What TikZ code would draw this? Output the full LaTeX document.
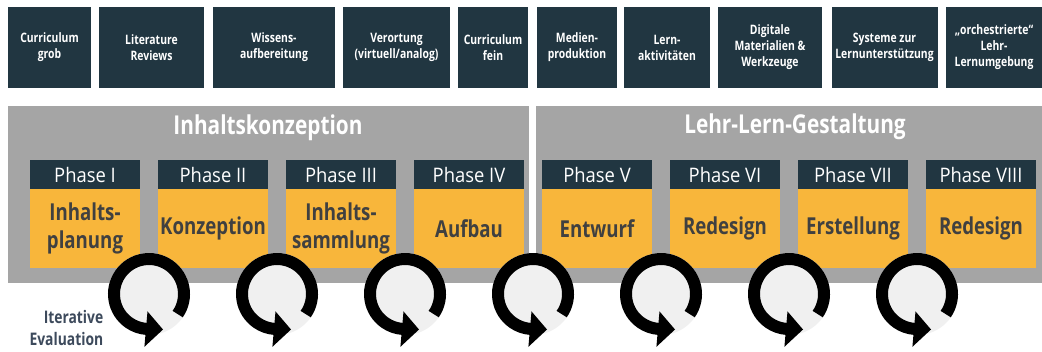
\documentclass[tikz,border=0pt]{standalone}
\usepackage{fontspec}
\setmainfont{Open Sans}[FakeStretch=0.8]
\newfontfamily\headfont{Open Sans}[FakeStretch=0.92]
\usetikzlibrary{arrows.meta}

\newlength\pxu
\setlength\pxu{0.75pt}
\definecolor{navy}{HTML}{213641}
\definecolor{panelgrey}{HTML}{A5A5A5}
\definecolor{phaseorange}{HTML}{F8B63B}
\definecolor{bodytext}{HTML}{404040}
\definecolor{evaltext}{HTML}{3D4A5C}
\definecolor{ringfill}{HTML}{F0F0F0}

\begin{document}
\begin{tikzpicture}[x=0.75pt, y=-0.75pt,
    topbox/.style={fill=navy, text=white, align=center, inner sep=0pt, minimum height=81\pxu,
        font=\bfseries\fontsize{9.75}{12}\selectfont},
    panel/.style={fill=panelgrey, inner sep=0pt, minimum height=177\pxu},
    paneltitle/.style={text=white, font=\bfseries\fontsize{19.5}{22}\selectfont},
    phasehead/.style={fill=navy, text=white, inner sep=0pt, minimum width=110\pxu, minimum height=29\pxu,
        font=\headfont\fontsize{15}{16}\selectfont},
    phasebody/.style={fill=phaseorange, text=bodytext, align=center, inner sep=0pt, minimum width=110\pxu,
        minimum height=79\pxu, font=\bfseries\fontsize{17.5}{21}\selectfont},
    evalcircle/.style={circle, fill=ringfill, inner sep=0pt, minimum size=82\pxu},
    ring/.style={line width=9pt},
    ringtip/.style={fill=black}
]
    \path[fill=white, use as bounding box] (0,0) rectangle (1042,351);

    % top row
    \node[topbox, minimum width=83\pxu] (curgrob) at (49.5,47.5) {Curriculum\\grob};
    \node[topbox, minimum width=105\pxu] (litrev) at (151.5,47.5) {Literature\\Reviews};
    \node[topbox, minimum width=122\pxu] (wissen) at (274,47.5) {Wissens-\\aufbereitung};
    \node[topbox, minimum width=107\pxu] (verort) at (396.5,47.5) {Verortung\\(virtuell/analog)};
    \node[topbox, minimum width=70\pxu] (curfein) at (493,47.5) {Curriculum\\fein};
    \node[topbox, minimum width=80\pxu] (medien) at (577,47.5) {Medien-\\produktion};
    \node[topbox, minimum width=86\pxu] (lernakt) at (667,47.5) {Lern-\\aktivitäten};
    \node[topbox, minimum width=104\pxu] (digmat) at (770,47.5) {Digitale\\Materialien \&\\Werkzeuge};
    \node[topbox, minimum width=106\pxu] (system) at (884.5,47.5) {Systeme zur\\Lernunterstützung};
    \node[topbox, minimum width=96\pxu] (orch) at (994,47.5) {„orchestrierte“\\Lehr-\\Lernumgebung};

    % panels
    \node[panel, minimum width=521\pxu] (inhalt) at (268.5,194.5) {};
    \node[panel, minimum width=506\pxu] (lehrlern) at (789,194.5) {};
    \node[paneltitle] (inhalttitle) at (268,128) {Inhaltskonzeption};
    \node[paneltitle] (lehrlerntitle) at (795,127) {Lehr-Lern-Gestaltung};

    % phases
    \node[phasehead] (ph1) at (85,174.5) {Phase I};
    \node[phasehead] (ph2) at (213,174.5) {Phase II};
    \node[phasehead] (ph3) at (341,174.5) {Phase III};
    \node[phasehead] (ph4) at (469,174.5) {Phase IV};
    \node[phasehead] (ph5) at (597,174.5) {Phase V};
    \node[phasehead] (ph6) at (725,174.5) {Phase VI};
    \node[phasehead] (ph7) at (853,174.5) {Phase VII};
    \node[phasehead] (ph8) at (981,174.5) {Phase VIII};

    \node[phasebody] (pb1) at (85,228.5) {Inhalts-\\planung};
    \node[phasebody] (pb2) at (213,228.5) {Konzeption};
    \node[phasebody] (pb3) at (341,228.5) {Inhalts-\\sammlung};
    \node[phasebody] (pb4) at (469,228.5) {Aufbau};
    \node[phasebody] (pb5) at (597,228.5) {Entwurf};
    \node[phasebody] (pb6) at (725,228.5) {Redesign};
    \node[phasebody] (pb7) at (853,228.5) {Erstellung};
    \node[phasebody] (pb8) at (981,228.5) {Redesign};

    % iteration cycles
    \node[evalcircle] (ev1) at (149,294) {};
    \node[evalcircle] (ev2) at (277,294) {};
    \node[evalcircle] (ev3) at (405,294) {};
    \node[evalcircle] (ev4) at (533,294) {};
    \node[evalcircle] (ev5) at (661,294) {};
    \node[evalcircle] (ev6) at (789,294) {};
    \node[evalcircle] (ev7) at (917,294) {};

    \draw[ring] (ev1.center) ++(-35:26.25pt) arc[start angle=-35, end angle=266, radius=26.25pt];
    \draw[ring] (ev2.center) ++(-35:26.25pt) arc[start angle=-35, end angle=266, radius=26.25pt];
    \draw[ring] (ev3.center) ++(-35:26.25pt) arc[start angle=-35, end angle=266, radius=26.25pt];
    \draw[ring] (ev4.center) ++(-35:26.25pt) arc[start angle=-35, end angle=266, radius=26.25pt];
    \draw[ring] (ev5.center) ++(-35:26.25pt) arc[start angle=-35, end angle=266, radius=26.25pt];
    \draw[ring] (ev6.center) ++(-35:26.25pt) arc[start angle=-35, end angle=266, radius=26.25pt];
    \draw[ring] (ev7.center) ++(-35:26.25pt) arc[start angle=-35, end angle=266, radius=26.25pt];

    \fill[ringtip] (ev1.center) +(-1.5,17.4) -- +(14,35.5) -- +(-4.6,52.8) -- cycle;
    \fill[ringtip] (ev2.center) +(-1.5,17.4) -- +(14,35.5) -- +(-4.6,52.8) -- cycle;
    \fill[ringtip] (ev3.center) +(-1.5,17.4) -- +(14,35.5) -- +(-4.6,52.8) -- cycle;
    \fill[ringtip] (ev4.center) +(-1.5,17.4) -- +(14,35.5) -- +(-4.6,52.8) -- cycle;
    \fill[ringtip] (ev5.center) +(-1.5,17.4) -- +(14,35.5) -- +(-4.6,52.8) -- cycle;
    \fill[ringtip] (ev6.center) +(-1.5,17.4) -- +(14,35.5) -- +(-4.6,52.8) -- cycle;
    \fill[ringtip] (ev7.center) +(-1.5,17.4) -- +(14,35.5) -- +(-4.6,52.8) -- cycle;

    \node[text=evaltext, align=right, anchor=east, font=\bfseries\fontsize{13}{16.5}\selectfont] (itereval) at (108,328) {Iterative\\Evaluation};
\end{tikzpicture}
\end{document}
